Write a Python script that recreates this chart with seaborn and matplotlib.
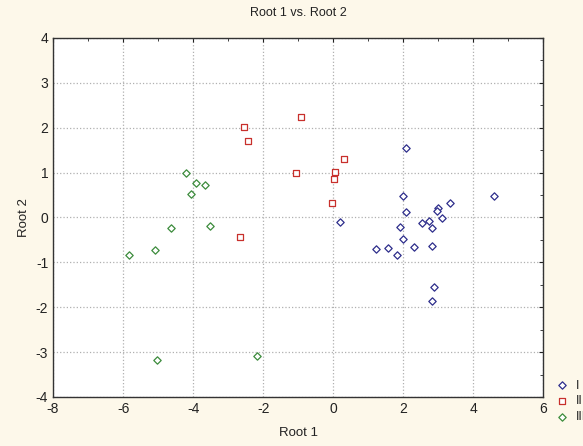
import matplotlib
matplotlib.use("Agg")
import matplotlib.pyplot as plt
import seaborn as sns
import pandas as pd
from matplotlib.ticker import MultipleLocator

# Group I (blue diamonds)
g1_x = [0.19, 2.08, 1.98, 4.60, 3.33, 2.98, 2.95, 2.08, 3.11, 2.74, 2.53,
        2.81, 1.91, 1.98, 2.31, 2.83, 1.57, 1.22, 1.81, 2.88, 2.81]
g1_y = [-0.10, 1.55, 0.47, 0.47, 0.33, 0.21, 0.15, 0.12, -0.02, -0.08, -0.13,
        -0.24, -0.22, -0.48, -0.65, -0.64, -0.68, -0.70, -0.84, -1.56, -1.86]
# Group II (red squares)
g2_x = [-0.91, -2.54, -2.42, 0.30, -1.06, 0.06, 0.03, -0.03, -2.66]
g2_y = [2.24, 2.01, 1.71, 1.30, 1.00, 1.02, 0.86, 0.33, -0.44]
# Group III (green diamonds)
g3_x = [-4.21, -3.91, -3.67, -4.07, -4.62, -3.52, -5.09, -5.83, -5.03, -2.17]
g3_y = [0.99, 0.76, 0.73, 0.52, -0.23, -0.19, -0.72, -0.83, -3.18, -3.09]

groups = ["I", "II", "III"]
colors = ["#2e2e8c", "#c8302c", "#3c8c3c"]
markers = ["D", "s", "D"]
sizes = [14, 22, 14]

sns.set_style("white")
plt.rcParams['font.family'] = ['Liberation Sans', 'DejaVu Sans']
plt.rcParams['axes.unicode_minus'] = False

fig = plt.figure(figsize=(5.83, 4.46), dpi=100, facecolor="#fdf8ea")
ax = fig.add_axes([0.091, 0.110, 0.841, 0.805])
ax.set_facecolor("white")

data = [(g1_x, g1_y), (g2_x, g2_y), (g3_x, g3_y)]
for (xs, ys), name, col, mk, sz in zip(data, groups, colors, markers, sizes):
    df = pd.DataFrame({"x": xs, "y": ys})
    sns.scatterplot(data=df, x="x", y="y", marker=mk, s=sz, facecolor="white",
                    edgecolor=col, linewidth=0.9, label=name, ax=ax, zorder=3)

ax.set_xlim(-8, 6)
ax.set_ylim(-4, 4)
ax.xaxis.set_major_locator(MultipleLocator(2))
ax.xaxis.set_minor_locator(MultipleLocator(1))
ax.yaxis.set_major_locator(MultipleLocator(1))
ax.yaxis.set_minor_locator(MultipleLocator(0.5))
ax.grid(True, which="major", linestyle=":", color="#b0b0b0", linewidth=0.9)
ax.tick_params(which="both", direction="in", top=True, right=True, labelsize=10,
               colors="#222222")
ax.tick_params(which="major", length=3)
ax.tick_params(which="minor", length=2)
for s in ax.spines.values():
    s.set_visible(True)
    s.set_color("#333333")
    s.set_linewidth(1.0)

ax.set_title("Root 1 vs. Root 2", fontsize=9, color="#222222", pad=16)
ax.set_xlabel("Root 1", fontsize=9.5, color="#222222", labelpad=8)
ax.set_ylabel("Root 2", fontsize=9.5, color="#222222", labelpad=4)

leg = ax.legend(loc="lower left", bbox_to_anchor=(0.945, 0.04), bbox_transform=fig.transFigure,
                frameon=False, fontsize=9, handletextpad=0.6, labelspacing=0.3,
                handlelength=1.0, borderaxespad=0)

fig.savefig("out.png", dpi=100, facecolor=fig.get_facecolor())
